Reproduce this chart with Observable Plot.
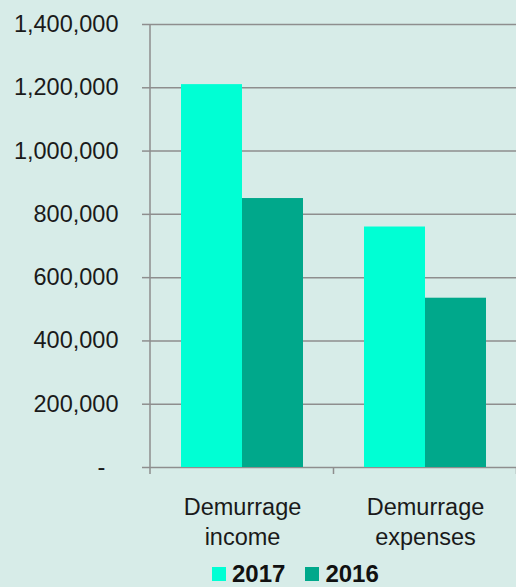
<!DOCTYPE html>
<html>
<head>
<meta charset="utf-8">
<script src="https://cdn.jsdelivr.net/npm/d3@7"></script>
<script src="https://cdn.jsdelivr.net/npm/@observablehq/plot@0.6"></script>
<style>
  html, body { margin: 0; padding: 0; background: #d7ece8; }
  body { width: 516px; height: 587px; overflow: hidden; font-family: "Liberation Sans", Arial, sans-serif; }
  #legend { display: flex; align-items: center; padding-left: 212px; padding-top: 6px; height: 24px; line-height: 24px; font-weight: bold; font-size: 24px; color: #111; }
  #legend .sw { width: 14px; height: 14px; margin-right: 6px; }
  #legend .item { display: flex; align-items: center; margin-right: 20px; }
</style>
</head>
<body>
<div id="chart"></div>
<div id="legend"></div>
<script>
// Demurrage figures by year
const categories = ["Demurrage income", "Demurrage expenses"];
const categoryLabels = ["Demurrage\nincome", "Demurrage\nexpenses"];
const years = ["2017", "2016"];
const values2017 = [1210000, 760000];
const values2016 = [850000, 535000];
const yTicks = [0, 200000, 400000, 600000, 800000, 1000000, 1200000, 1400000];
const colors = ["#00ffd4", "#00a88b"];

const rows = categories.flatMap((c, i) => [
  {category: c, year: "2017", value: values2017[i]},
  {category: c, year: "2016", value: values2016[i]}
]);

const W = 516, H = 556, mL = 150, mR = 0, mT = 24, mB = 89;
const padInner = 1 / 3, padOuter = 1 / 6;
const step = (W - mL - mR) / (categories.length - padInner + 2 * padOuter);
const halfBand = step * (1 - padInner) / 2;

const gray = "#8e8e8e";
const fmt = d3.format(",");

// axis lines and category boundary ticks (Excel-style)
function axisLines(index, scales, values, dims) {
  const x = scales.x;
  const bw = typeof x.bandwidth === "function" ? x.bandwidth() : (x.bandwidth ?? halfBand * 2);
  const y0 = dims.height - dims.marginBottom;
  const g = d3.create("svg:g").attr("stroke", gray).attr("stroke-width", 1.5);
  g.append("line").attr("x1", dims.marginLeft).attr("x2", dims.marginLeft)
    .attr("y1", dims.marginTop).attr("y2", y0 + 7);
  const gap = categories.length > 1 ? x(categories[1]) - x(categories[0]) - bw : 0;
  categories.forEach(c => {
    const bx = x(c) + bw + gap / 2;
    g.append("line").attr("x1", bx).attr("x2", bx).attr("y1", y0).attr("y2", y0 + 7);
  });
  return g.node();
}

const chart = Plot.plot({
  width: W, height: H,
  marginLeft: mL, marginRight: mR, marginTop: mT, marginBottom: mB,
  style: {background: "transparent", fontFamily: "'Liberation Sans', Arial, sans-serif", fontSize: "23.5px", color: "#1a1a1a"},
  x: {domain: categories, paddingInner: padInner, paddingOuter: padOuter, axis: null},
  y: {domain: [0, 1400000], axis: null},
  color: {domain: years, range: colors},
  marks: [
    Plot.ruleY(yTicks, {stroke: gray, strokeWidth: 1.5}),
    Plot.axisY({ticks: yTicks, tickSize: 8, tickPadding: 24, stroke: gray, strokeWidth: 1.5, label: null,
      tickFormat: d => d === 0 ? "-\u00a0\u00a0" : fmt(d), fontSize: 23.5}),
    Plot.barY(rows.filter(d => d.year === "2017"), {x: "category", y: "value", fill: "year", insetRight: halfBand}),
    Plot.barY(rows.filter(d => d.year === "2016"), {x: "category", y: "value", fill: "year", insetLeft: halfBand}),
    Plot.axisX({tickSize: 0, tickPadding: 27, label: null, lineHeight: 1.25, fontSize: 23.5,
      tickFormat: d => categoryLabels[categories.indexOf(d)]}),
    axisLines
  ]
});
document.getElementById("chart").appendChild(chart);

// legend
const legend = document.getElementById("legend");
years.forEach((y, i) => {
  const item = document.createElement("div");
  item.className = "item";
  const sw = document.createElement("div");
  sw.className = "sw";
  sw.style.background = colors[i];
  const t = document.createElement("span");
  t.textContent = y;
  item.appendChild(sw);
  item.appendChild(t);
  legend.appendChild(item);
});
</script>
</body>
</html>
